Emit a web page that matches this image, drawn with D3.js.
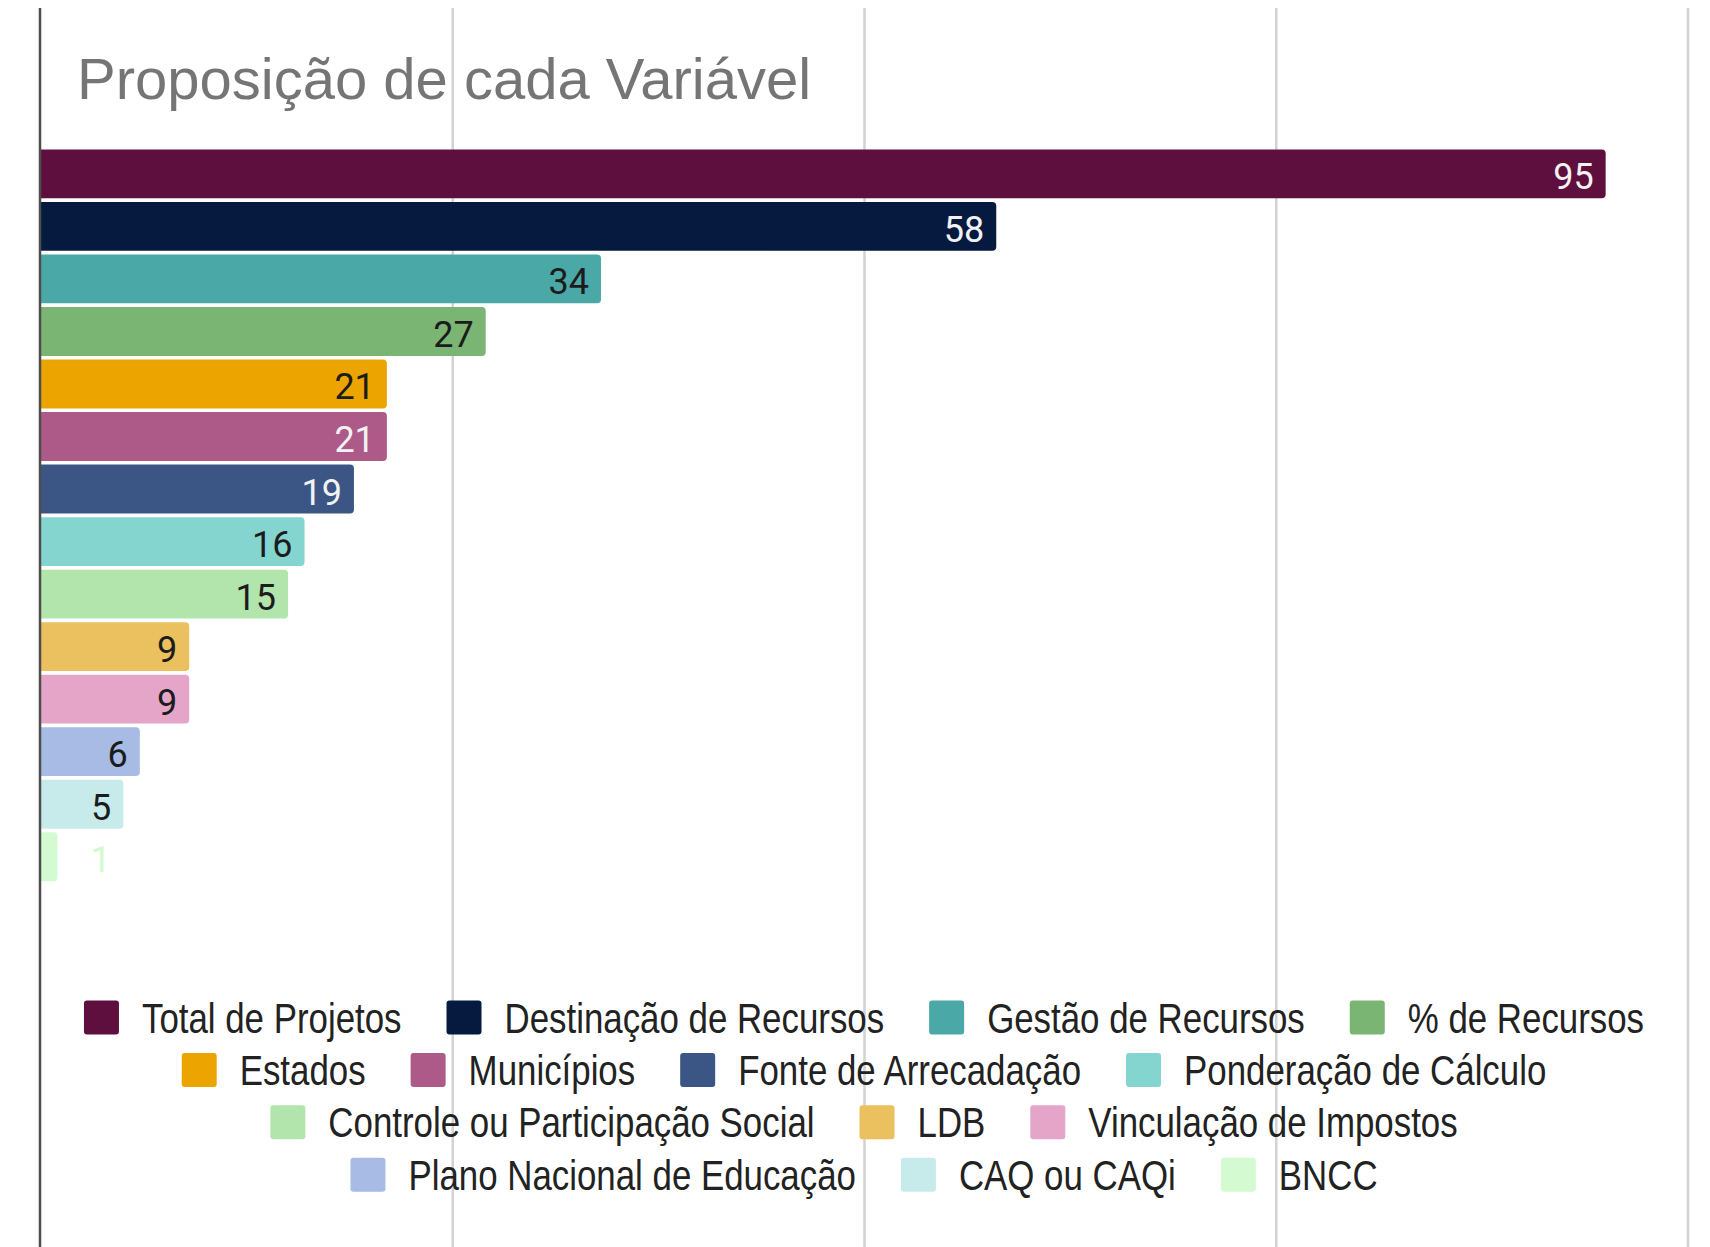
<!DOCTYPE html>
<html>
<head>
<meta charset="utf-8">
<script src="https://cdn.jsdelivr.net/npm/d3@7"></script>
<style>
  body { margin: 0; background: #fff; }
  svg { display: block; }
</style>
</head>
<body>
<div id="chart"></div>
<script>
var w = 1710; // Define width
var h = 1247; // Define height

// Chart data
var title = "Proposição de cada Variável";
var categories = [
    "Total de Projetos", "Destinação de Recursos", "Gestão de Recursos", "% de Recursos",
    "Estados", "Municípios", "Fonte de Arrecadação", "Ponderação de Cálculo",
    "Controle ou Participação Social", "LDB", "Vinculação de Impostos",
    "Plano Nacional de Educação", "CAQ ou CAQi", "BNCC"
];
var values = [95, 58, 34, 27, 21, 21, 19, 16, 15, 9, 9, 6, 5, 1];
var colors = [
    "#5e0f3d", "#061a40", "#4aa8a6", "#7bb573",
    "#eca500", "#ad5a88", "#3b5585", "#84d5d0",
    "#b1e5ab", "#ebc05e", "#e4a5c9",
    "#a7bbe5", "#c7ebea", "#d3fad0"
];
var xTicks = [0, 25, 50, 75, 100];

var svg = d3.select("#chart")
    .append("svg")
    .attr("width", w)
    .attr("height", h);

svg.append("rect").attr("width", w).attr("height", h).attr("fill", "#fff");

var xScale = d3.scaleLinear()
    .domain([0, 100])
    .range([41, 1688]);

var yScale = d3.scaleBand()
    .domain(categories)
    .range([147.6, 883])
    .paddingInner(0.07)
    .paddingOuter(0.035);

// gridlines
svg.selectAll("line.grid")
    .data(xTicks.slice(1))
    .enter()
    .append("line")
    .attr("class", "grid")
    .attr("x1", function(d) { return xScale(d); })
    .attr("x2", function(d) { return xScale(d); })
    .attr("y1", 8)
    .attr("y2", h)
    .attr("stroke", "#d2d2d2")
    .attr("stroke-width", 2.5);

// title
svg.append("text")
    .attr("x", 77)
    .attr("y", 99)
    .attr("font-family", "'Liberation Sans', Arial, sans-serif")
    .attr("font-size", 58)
    .attr("fill", "#757575")
    .text(title);

// bar shape with rounded right corners
function barPath(x0, y, bw, bh, r) {
    r = Math.min(r, bw / 2, bh / 2);
    return "M" + x0 + "," + y +
        "H" + (x0 + bw - r) +
        "A" + r + "," + r + " 0 0 1 " + (x0 + bw) + "," + (y + r) +
        "V" + (y + bh - r) +
        "A" + r + "," + r + " 0 0 1 " + (x0 + bw - r) + "," + (y + bh) +
        "H" + x0 + "Z";
}

function isDark(c) {
    var rgb = d3.rgb(c);
    function lin(v) { v = v / 255; return v <= 0.03928 ? v / 12.92 : Math.pow((v + 0.055) / 1.055, 2.4); }
    var L = 0.2126 * lin(rgb.r) + 0.7152 * lin(rgb.g) + 0.0722 * lin(rgb.b);
    return L < 0.25;
}

var bars = categories.map(function(c, i) {
    return { name: c, value: values[i], color: colors[i] };
});

svg.selectAll("path.bar")
    .data(bars)
    .enter()
    .append("path")
    .attr("class", "bar")
    .attr("d", function(d) {
        return barPath(xScale(0), yScale(d.name), xScale(d.value) - xScale(0), yScale.bandwidth(), 4);
    })
    .attr("fill", function(d) { return d.color; });

// value labels
var labelSize = 36;
svg.selectAll("text.val")
    .data(bars)
    .enter()
    .append("text")
    .attr("class", "val")
    .attr("font-family", "Roboto, sans-serif")
    .attr("font-size", labelSize)
    .attr("y", function(d) { return yScale(d.name) + yScale.bandwidth() / 2 + 15.5; })
    .each(function(d) {
        var t = d3.select(this);
        var barW = xScale(d.value) - xScale(0);
        if (barW > 50) {
            t.attr("x", xScale(d.value) - 12)
                .attr("text-anchor", "end")
                .attr("fill", isDark(d.color) ? "#f2f2f2" : "#1c1c1c");
        } else {
            t.attr("x", xScale(d.value) + 33)
                .attr("text-anchor", "start")
                .attr("fill", d.color);
        }
    })
    .text(function(d) { return d.value; });

// axis line
svg.append("line")
    .attr("x1", 40).attr("x2", 40)
    .attr("y1", 8).attr("y2", h)
    .attr("stroke", "#4d4d4d")
    .attr("stroke-width", 2.5);

// legend
var legendSize = 42, legendScaleX = 0.83;
var sw = 35, swGap = 23, itemGap = 45, maxRow = 1640, centerX = 864;
var rowY = [1017.5, 1070, 1122.3, 1174.7];

var legend = svg.append("g");
var items = bars.map(function(d) {
    var g = legend.append("g");
    g.append("rect")
        .attr("width", sw).attr("height", sw - 1)
        .attr("rx", 3)
        .attr("y", -(sw - 1) / 2)
        .attr("fill", d.color);
    var t = g.append("text")
        .attr("font-family", "'Liberation Sans', Arial, sans-serif")
        .attr("font-size", legendSize)
        .attr("fill", "#222")
        .attr("transform", "translate(" + (sw + swGap) + "," + 15 + ") scale(" + legendScaleX + ",1)")
        .text(d.name);
    var tw = t.node().getComputedTextLength() * legendScaleX;
    return { g: g, width: sw + swGap + tw };
});

// wrap the items into centred rows
var rows = [[]], rowW = 0;
items.forEach(function(it) {
    var add = (rows[rows.length - 1].length ? itemGap : 0) + it.width;
    if (rowW + add > maxRow && rows[rows.length - 1].length) {
        rows.push([it]);
        rowW = it.width;
    } else {
        rows[rows.length - 1].push(it);
        rowW += add;
    }
});
rows.forEach(function(row, r) {
    var total = d3.sum(row, function(it) { return it.width; }) + itemGap * (row.length - 1);
    var x = centerX - total / 2;
    row.forEach(function(it) {
        it.g.attr("transform", "translate(" + x + "," + rowY[r] + ")");
        x += it.width + itemGap;
    });
});
</script>
</body>
</html>
